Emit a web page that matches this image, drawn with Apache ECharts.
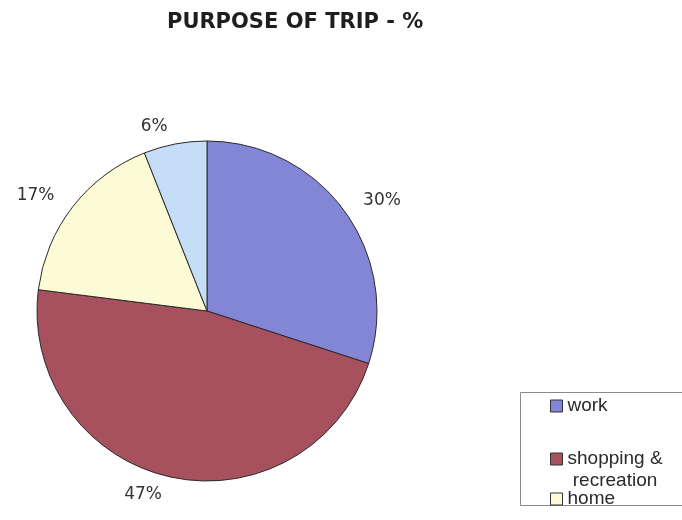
<!DOCTYPE html>
<html>
<head>
<meta charset="utf-8">
<style>
  html, body { margin: 0; padding: 0; background: #ffffff; }
  #chart { width: 682px; height: 520px; }
</style>
<script src="https://cdn.jsdelivr.net/npm/echarts@6/dist/echarts.min.js"></script>
</head>
<body>
<div id="chart"></div>
<script>
// Trip purposes and their shares (percent)
const categories = ['work', 'shopping & recreation', 'home', 'other'];
const shares = [30, 47, 17, 6];
const sliceColors = ['#8386d6', '#a7505e', '#fdfbd6', '#c6ddf8'];

const chart = echarts.init(document.getElementById('chart'), null, { renderer: 'canvas' });

// Square icon sitting at the top of a taller box, so that the swatch lines up
// with the first line of a two-line legend label.
const topSquare = 'path://M0,0h12v12h-12zM6,34L6,34';

const legendBase = {
  orient: 'vertical',
  left: 550,
  padding: 0,
  itemWidth: 12,
  itemHeight: 12,
  icon: 'rect',
  itemStyle: { borderColor: '#333', borderWidth: 1 },
  textStyle: { fontFamily: 'Liberation Sans', fontSize: 19, color: '#2a2a2a', lineHeight: 22 },
  selectedMode: false
};

chart.setOption({
  backgroundColor: '#ffffff',
  animation: false,
  title: {
    text: 'PURPOSE OF TRIP - %',
    left: 167,
    top: 12,
    padding: 0,
    textStyle: { fontFamily: 'DejaVu Sans', fontWeight: 'bold', fontSize: 21, color: '#1e1e1e' }
  },
  legend: [
    Object.assign({}, legendBase, { top: 395, data: [categories[0]] }),
    Object.assign({}, legendBase, {
      top: 448,
      itemHeight: 34,
      icon: topSquare,
      data: [categories[1]],
      formatter: function () { return 'shopping &\n recreation'; }
    }),
    Object.assign({}, legendBase, { top: 488, data: [categories[2]] })
  ],
  graphic: [{
    type: 'rect',
    shape: { x: 520.5, y: 392.5, width: 200, height: 113 },
    style: { fill: 'none', stroke: '#8a8a8a', lineWidth: 1 },
    silent: true,
    z: -1
  }],
  series: [{
    type: 'pie',
    center: [207, 311],
    radius: 170,
    startAngle: 90,
    clockwise: true,
    avoidLabelOverlap: false,
    itemStyle: { borderColor: '#2a2a2a', borderWidth: 1 },
    label: {
      show: true,
      position: 'outside',
      formatter: '{c}%',
      fontFamily: 'DejaVu Sans',
      fontSize: 17,
      color: '#333',
      distanceToLabelLine: 4
    },
    labelLine: { show: false, length: 18, length2: 0 },
    emphasis: { disabled: true },
    data: categories.map(function (name, i) {
      return { name: name, value: shares[i], itemStyle: { color: sliceColors[i] } };
    })
  }]
});
</script>
</body>
</html>
